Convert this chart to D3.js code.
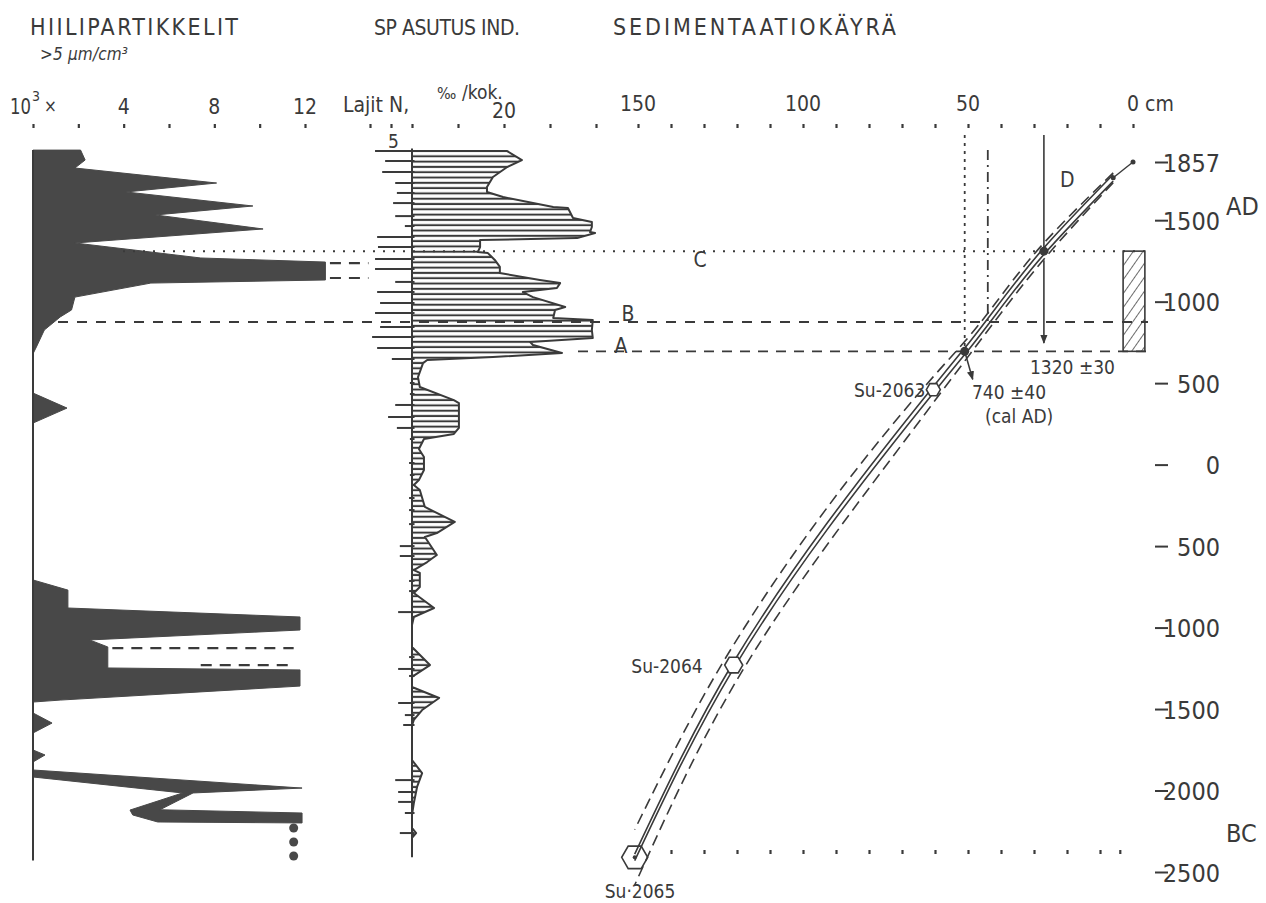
<!DOCTYPE html>
<html>
<head>
<meta charset="utf-8">
<script src="https://cdn.jsdelivr.net/npm/d3@7"></script>
<style>
  body { margin: 0; background: #fff; }
  svg { display: block; }
  text { font-family: 'DejaVu Sans Condensed', 'DejaVu Sans', sans-serif; font-stretch: condensed; fill: #3a3a3a; }
</style>
</head>
<body>
<svg id="chart" width="1266" height="903"></svg>
<script>
// ---- data ----
// shared vertical axis: calendar years (AD positive, BC negative)
const yearTicks = [1857, 1500, 1000, 500, 0, -500, -1000, -1500, -2000, -2500];
const depthTicks = d3.range(0, 151, 10);
const depthLabels = [150, 100, 50];
const charcoalTicks = [0, 2, 4, 6, 8, 10, 12];
const charcoalLabels = [4, 8, 12];
const spTicks = [0, 10, 20, 30, 40];
const speciesTicks = [5, 10];

// charcoal particles (10^3 / cm3) : [value, year]
const charTop = [[0,1930],[2.1,1930],[2.3,1869],[1.85,1820],[8.1,1728],[4.1,1673],[9.7,1587],[5.4,1532],[10.15,1446],[1.85,1360],[7.4,1268],[12.9,1243],[12.9,1133],[5.2,1114],[1.85,1028],[1.7,949],[1.2,906],[0.5,826],[0.15,722],[0,680]];
const charBump = [[0,439],[1.5,347],[0,255]];
const charMid = [[0,-708],[1.54,-770],[1.54,-880],[11.78,-935],[11.78,-1015],[2.5,-1076],[3.3,-1119],[3.3,-1248],[11.78,-1260],[11.78,-1359],[1.2,-1445],[0,-1457]];
const charTri1 = [[0,-1524],[0.84,-1586],[0,-1647]];
const charTri2 = [[0,-1751],[0.53,-1782],[0,-1825]];
const charLow = [[0,-1874],[11.87,-1985],[7.06,-2015],[5.6,-2118],[11.87,-2138],[11.87,-2199],[5.5,-2193],[4.4,-2150],[4.28,-2120],[6.6,-2015],[0,-1917]];
const charDots = [[11.5,-2230],[11.5,-2316],[11.5,-2402]];
const charBreaks = [[13.1,14.8,1237],[13.1,14.8,1145],[3.5,11.5,-1126],[7.4,11.5,-1230]];
const charRange = [1930, -2430];

// SP settlement indicators (per mille of total) : [value, year]
const spProfile = [[0,1924],[20.7,1924],[23.9,1869],[20.7,1826],[17.6,1765],[16.3,1703],[16.3,1673],[19.8,1642],[30.7,1581],[33.9,1575],[35.0,1513],[39.1,1489],[39.1,1458],[38.7,1427],[39.8,1421],[35.9,1390],[14.8,1378],[14.8,1335],[14.3,1305],[16.5,1298],[18.0,1256],[19.1,1213],[19.1,1176],[27.8,1133],[32.2,1114],[31.5,1084],[24.1,1059],[26.3,1028],[33.3,967],[31.1,949],[30.7,900],[39.3,887],[39.1,826],[39.3,777],[25.7,752],[26.3,734],[32.6,685],[17.6,660],[3.3,642],[2.4,623],[1.3,537],[1.7,476],[9.1,396],[10.2,378],[10.2,225],[9.1,188],[2.6,157],[1.5,96],[2.6,47],[2.6,-33],[1.5,-95],[0.4,-125],[1.7,-156],[2.8,-260],[9.3,-352],[5.4,-420],[2.8,-444],[5.4,-555],[3.3,-598],[0.4,-647],[1.7,-665],[1.7,-751],[0.4,-788],[4.8,-880],[0.4,-935],[0,-984],[0,-1119],[3.9,-1230],[0,-1303],[0,-1365],[5.9,-1432],[2.2,-1506],[0.4,-1567],[0,-1600],[0,-1813],[2.2,-1893],[1.1,-1978],[0.4,-2077],[0,-2150],[0,-2230],[0.9,-2261],[0,-2290]];
const spRange = [1940, -2410];
// number of species : [N, year]
const speciesN = [[8.8,1924],[6.4,1863],[7.1,1796],[4.0,1728],[3.6,1667],[4.5,1605],[4.0,1525],[1.7,1464],[8.3,1397],[8.1,1335],[8.8,1262],[8.8,1200],[4.0,1121],[8.3,1059],[7.6,992],[8.8,930],[7.6,844],[9.5,783],[8.3,715],[4.8,648],[0.5,501],[0.5,433],[4.0,366],[5.7,292],[3.6,225],[0.5,157],[0.7,10],[0.5,-64],[0.7,-205],[0.7,-279],[0.7,-365],[2.9,-500],[2.9,-561],[0.7,-714],[0.7,-776],[3.3,-905],[0.7,-1181],[3.3,-1254],[0.7,-1297],[3.3,-1463],[1.7,-1537],[2.1,-1598],[4.0,-1936],[3.3,-2009],[3.3,-2070],[1.7,-2138],[2.9,-2261]];

// sedimentation curve: depth (cm) vs year, with error envelope (years)
const sedDepth = [0, 6, 27, 51, 60.5, 121, 151];
const sedYear = [1857, 1760, 1310, 695, 460, -1230, -2410];
const sedErr = [0, 10, 30, 40, 60, 105, 150];
const samples = [
  { name: 'Su-2063', i: 4 },
  { name: 'Su-2064', i: 5 },
  { name: 'Su·2065', i: 6 }
];
// horizontal markers
const lineC = 1310, lineB = 875, lineA = 695;
const depthB = 44;

// ---- drawing ----
const ink = '#3a3a3a';
const svg = d3.select('#chart');

const yYear = d3.scaleLinear().domain([1857, -2500]).range([162, 872]);
const xDepth = d3.scaleLinear().domain([0, 150]).range([1133, 638]);
const xChar = d3.scaleLinear().domain([0, 12]).range([33, 305]);
const xSP = d3.scaleLinear().domain([0, 40]).range([412, 596]);
const xN = d3.scaleLinear().domain([0, 10]).range([412, 370]);

const defs = svg.append('defs');
const hatchH = defs.append('pattern').attr('id', 'hatchH')
  .attr('patternUnits', 'userSpaceOnUse').attr('width', 10).attr('height', 5.3);
hatchH.append('line').attr('x1', 0).attr('x2', 10).attr('y1', 2.6).attr('y2', 2.6)
  .attr('stroke', ink).attr('stroke-width', 2);
const hatchD = defs.append('pattern').attr('id', 'hatchD')
  .attr('patternUnits', 'userSpaceOnUse').attr('width', 8).attr('height', 8)
  .attr('patternTransform', 'rotate(35)');
hatchD.append('line').attr('x1', 0).attr('x2', 0).attr('y1', 0).attr('y2', 8)
  .attr('stroke', ink).attr('stroke-width', 1.5);
defs.append('marker').attr('id', 'arrow').attr('viewBox', '0 0 10 10')
  .attr('refX', 9).attr('refY', 5).attr('markerWidth', 9).attr('markerHeight', 9)
  .attr('markerUnits', 'userSpaceOnUse').attr('orient', 'auto')
  .append('path').attr('d', 'M0,1 L10,5 L0,9 Z').attr('fill', ink);

function label(txt, x, y, size, opts = {}) {
  const t = svg.append('text').attr('x', x).attr('y', y).attr('font-size', size).text(txt);
  if (opts.anchor) t.attr('text-anchor', opts.anchor);
  if (opts.len) t.attr('textLength', opts.len).attr('lengthAdjust', opts.adjust || 'spacing');
  if (opts.italic) t.attr('font-style', 'italic');
  return t;
}
function hline(x1, x2, y, dash, w = 1.8) {
  svg.append('line').attr('x1', x1).attr('x2', x2).attr('y1', y).attr('y2', y)
    .attr('stroke', ink).attr('stroke-width', w).attr('stroke-dasharray', dash);
}
function dotAxis(scale, values, y, axis = d3.axisTop) {
  const g = svg.append('g').attr('transform', `translate(0,${y})`)
    .call(axis(scale).tickValues(values).tickSize(4).tickFormat(''));
  g.select('.domain').remove();
  g.selectAll('line').attr('stroke', ink).attr('stroke-width', 2.2);
}

// headers
label('HIILIPARTIKKELIT', 30, 35, 23, { len: 208 });
label('>5 µm/cm³', 40, 60, 17, { len: 88, italic: true });
label('SP ASUTUS IND.', 374, 35, 21, { len: 146 });
label('SEDIMENTAATIOKÄYRÄ', 613, 35, 23, { len: 283 });

// charcoal panel
const charLine = d3.line().x(d => xChar(d[0])).y(d => yYear(d[1]));
[charTop, charBump, charMid, charTri1, charTri2, charLow].forEach(p => {
  svg.append('path').attr('d', charLine(p) + 'Z')
    .attr('fill', '#484848').attr('stroke', '#484848').attr('stroke-width', 1);
});
svg.append('line').attr('x1', xChar(0)).attr('x2', xChar(0))
  .attr('y1', yYear(charRange[0])).attr('y2', yYear(charRange[1]))
  .attr('stroke', ink).attr('stroke-width', 2);
svg.selectAll('.cdot').data(charDots).join('circle')
  .attr('cx', d => xChar(d[0])).attr('cy', d => yYear(d[1])).attr('r', 4.5).attr('fill', '#484848');
charBreaks.forEach(b => hline(xChar(b[0]), xChar(b[1]), yYear(b[2]), '11,8', 2.2));
dotAxis(xChar, charcoalTicks, 128);
charcoalLabels.forEach(v => label(v, xChar(v), 114, 21, { anchor: 'middle' }));
label('10', 10, 114, 21, { len: 21, adjust: 'spacingAndGlyphs' });
label('3', 32, 101, 14);
label('×', 44, 112, 17);

// SP panel
const spLine = d3.line().x(d => xSP(d[0])).y(d => yYear(d[1]));
svg.append('path').attr('d', spLine(spProfile) + 'Z')
  .attr('fill', 'url(#hatchH)').attr('stroke', ink).attr('stroke-width', 2)
  .attr('stroke-linejoin', 'round');
svg.append('line').attr('x1', xSP(0)).attr('x2', xSP(0))
  .attr('y1', yYear(spRange[0])).attr('y2', yYear(spRange[1]))
  .attr('stroke', ink).attr('stroke-width', 2);
svg.selectAll('.sp-n').data(speciesN).join('line')
  .attr('x1', d => xN(d[0])).attr('x2', xN(-0.6))
  .attr('y1', d => yYear(d[1])).attr('y2', d => yYear(d[1]))
  .attr('stroke', ink).attr('stroke-width', 2);
dotAxis(xSP, spTicks, 128);
dotAxis(xN, speciesTicks, 128);
label('Lajit N,', 343, 112, 21);
label('‰', 437, 99, 16);
label('/kok.', 462, 99, 19);
label('20', xSP(20), 118, 21, { anchor: 'middle' });
label('5', xN(4.4), 148, 19, { anchor: 'middle' });

// sedimentation axes
dotAxis(xDepth, depthTicks, 128);
dotAxis(xDepth, d3.range(10, 141, 10).concat([4]), 850, d3.axisBottom);
depthLabels.forEach(v => label(v, xDepth(v), 111, 21, { anchor: 'middle' }));
label('0 cm', xDepth(0) - 6, 111, 21);

const gR = svg.append('g').attr('transform', 'translate(1155,0)')
  .call(d3.axisRight(yYear).tickValues(yearTicks).tickSize(13).tickFormat(d => Math.abs(d)));
gR.select('.domain').remove();
gR.selectAll('line').attr('stroke', ink).attr('stroke-width', 2);
gR.selectAll('text').attr('x', 65).attr('dy', '0.36em').attr('text-anchor', 'end')
  .attr('font-size', 25).attr('fill', ink);
label('AD', 1226, 215, 25);
label('BC', 1226, 842, 25);

// reference lines A, B, C and guides
hline(123, 1148, yYear(lineC), '2,8', 2);
hline(58, 1148, yYear(lineB), '10,9', 1.8);
hline(578, 1148, yYear(lineA), '10,8', 1.8);
svg.append('line').attr('x1', xDepth(sedDepth[3])).attr('x2', xDepth(sedDepth[3]))
  .attr('y1', 135).attr('y2', yYear(lineA))
  .attr('stroke', ink).attr('stroke-width', 1.8).attr('stroke-dasharray', '3,5');
svg.append('line').attr('x1', xDepth(depthB)).attr('x2', xDepth(depthB))
  .attr('y1', 150).attr('y2', yYear(lineB))
  .attr('stroke', ink).attr('stroke-width', 1.8).attr('stroke-dasharray', '10,5,2,5');
svg.append('rect')
  .attr('x', xDepth(3)).attr('width', xDepth(-3.6) - xDepth(3))
  .attr('y', yYear(lineC)).attr('height', yYear(lineA) - yYear(lineC))
  .attr('fill', 'url(#hatchD)').attr('stroke', ink).attr('stroke-width', 1.6);
label('C', 700, 267, 21, { anchor: 'middle' });
label('B', 628, 321, 21, { anchor: 'middle' });
label('A', 621, 353, 21, { anchor: 'middle' });

// sedimentation curve
const sed = sedDepth.map((d, i) => ({ depth: d, year: sedYear[i], err: sedErr[i] }));
const curve = d3.line().curve(d3.curveMonotoneY).x(d => xDepth(d.depth));
const inner = 20;
const body = sed.slice(1);
svg.append('path').attr('d', curve.y(d => yYear(d.year))(sed.slice(0, 2)))
  .attr('fill', 'none').attr('stroke', ink).attr('stroke-width', 1.4);
[-inner, inner].forEach(o => {
  svg.append('path').attr('d', curve.y(d => yYear(d.year + o))(body))
    .attr('fill', 'none').attr('stroke', ink).attr('stroke-width', 1.6);
});
[-1, 1].forEach(s => {
  svg.append('path').attr('d', curve.y(d => yYear(d.year + s * (d.err + inner)))(body))
    .attr('fill', 'none').attr('stroke', ink).attr('stroke-width', 1.6)
    .attr('stroke-dasharray', '11,6');
});
[[0, 2.5], [1, 2.5], [2, 4.5], [3, 4.5]].forEach(([i, r]) => {
  svg.append('circle').attr('cx', xDepth(sed[i].depth)).attr('cy', yYear(sed[i].year))
    .attr('r', r).attr('fill', ink);
});
const hexR = [7, 9, 13];
samples.forEach((s, k) => {
  const cx = xDepth(sed[s.i].depth), cy = yYear(sed[s.i].year), r = hexR[k];
  const pts = d3.range(6).map(j => [cx + r * Math.cos(j * Math.PI / 3), cy + r * Math.sin(j * Math.PI / 3)]);
  svg.append('path').attr('d', d3.line()(pts) + 'Z')
    .attr('fill', k === 2 ? 'none' : '#fff').attr('stroke', ink).attr('stroke-width', 1.6);
  if (k === 2) svg.append('circle').attr('cx', cx).attr('cy', cy).attr('r', 2).attr('fill', ink);
});
const s0 = sed[samples[0].i], s1 = sed[samples[1].i], s2 = sed[samples[2].i];
label(samples[0].name, xDepth(s0.depth) - 8, yYear(s0.year) + 7, 19, { anchor: 'end' });
label(samples[1].name, xDepth(s1.depth) - 31, yYear(s1.year) + 8, 19, { anchor: 'end' });
label(samples[2].name, xDepth(s2.depth) - 30, yYear(s2.year) + 41, 19);

// dating arrows
const pD = sed[2], pA = sed[3];
svg.append('line').attr('x1', xDepth(pD.depth)).attr('x2', xDepth(pD.depth))
  .attr('y1', 135).attr('y2', yYear(pD.year) - 4).attr('stroke', ink).attr('stroke-width', 1.6);
svg.append('line').attr('x1', xDepth(pD.depth)).attr('x2', xDepth(pD.depth))
  .attr('y1', yYear(pD.year) + 9).attr('y2', 343).attr('stroke', ink).attr('stroke-width', 1.6)
  .attr('marker-end', 'url(#arrow)');
svg.append('line').attr('x1', xDepth(pA.depth)).attr('x2', xDepth(pA.depth) + 8)
  .attr('y1', yYear(pA.year)).attr('y2', yYear(pA.year) + 28).attr('stroke', ink).attr('stroke-width', 1.6)
  .attr('marker-end', 'url(#arrow)');
label('D', 1060, 187, 21);
label('1320 ±30', 1030, 374, 19);
label('740 ±40', 972, 399, 19);
label('(cal AD)', 985, 423, 19);
</script>
</body>
</html>
